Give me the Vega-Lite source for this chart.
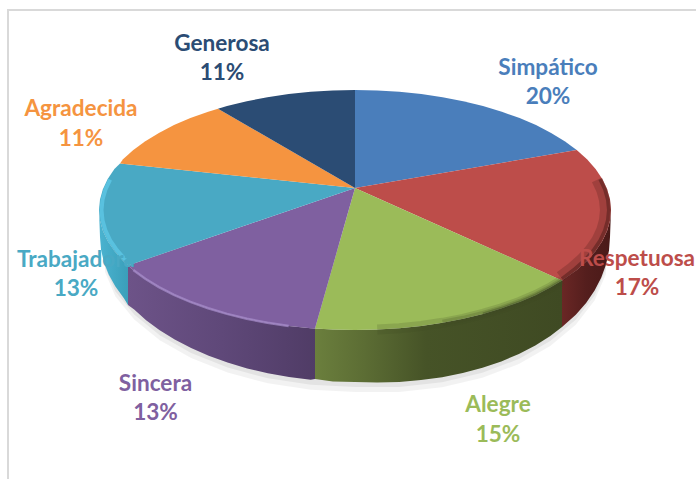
{
"$schema":"https://vega.github.io/schema/vega-lite/v6.json",
"width":696,"height":479,"padding":0,
"autosize":{"type":"fit","contains":"padding"},
"background":"white",
"config":{"view":{"stroke":null}},
"projection":{"type":"identity","reflectY":true,"scale":1,"translate":[355,188]},
"datasets":{
"labels":[
{"name":"Simpático","pct":0.20,"lon":193,"lat":107},
{"name":"Respetuosa","pct":0.17,"lon":282,"lat":-84},
{"name":"Alegre","pct":0.15,"lon":143,"lat":-230.5},
{"name":"Sincera","pct":0.13,"lon":-199.5,"lat":-209},
{"name":"Trabajadora","pct":0.13,"lon":-279,"lat":-85},
{"name":"Agradecida","pct":0.11,"lon":-274,"lat":65.5},
{"name":"Generosa","pct":0.11,"lon":-133,"lat":131}
],
"slices":[
{"name":"Simpático","geo":{"type":"Polygon","coordinates":[[[0,0],[0,98],[22.3,97.5],[44.4,96.2],[66.3,93.9],[87.6,90.8],[108.2,86.8],[128,81.9],[146.8,76.3],[164.6,69.9],[181,62.9],[196.1,55.1],[209.7,46.8],[221.7,38],[0,0]]]}},
{"name":"Respetuosa","geo":{"type":"Polygon","coordinates":[[[0,0],[221.7,38],[232,28.7],[240.6,19],[247.3,9.1],[252.1,-1.2],[255,-11.5],[256,-22],[255,-32.5],[252.1,-42.8],[247.3,-53.1],[240.6,-63],[232,-72.7],[221.7,-82],[207,-92.5],[0,0]]]}},
{"name":"Alegre","geo":{"type":"Polygon","coordinates":[[[0,0],[207,-92.5],[196.1,-99.1],[181,-106.9],[164.6,-113.9],[146.8,-120.3],[128,-125.9],[108.2,-130.8],[87.6,-134.8],[66.3,-137.9],[44.4,-140.2],[22.3,-141.5],[0,-142],[-22.3,-141.5],[-40,-140.5],[0,0]]]}},
{"name":"Sincera","geo":{"type":"Polygon","coordinates":[[[0,0],[-40,-140.5],[-44.4,-140.2],[-66.3,-137.9],[-87.6,-134.8],[-108.2,-130.8],[-128,-125.9],[-146.8,-120.3],[-164.6,-113.9],[-181,-106.9],[-196.1,-99.1],[-209.7,-90.8],[-221.7,-82],[-227,-77.5],[0,0]]]}},
{"name":"Trabajadora","geo":{"type":"Polygon","coordinates":[[[0,0],[-227,-77.5],[-232,-72.7],[-240.6,-63],[-247.3,-53.1],[-252.1,-42.8],[-255,-32.5],[-256,-22],[-255,-11.5],[-252.1,-1.2],[-247.3,9.1],[-240.6,19],[-235,24.5],[0,0]]]}},
{"name":"Agradecida","geo":{"type":"Polygon","coordinates":[[[0,0],[-235,24.5],[-232,28.7],[-221.7,38],[-209.7,46.8],[-196.1,55.1],[-181,62.9],[-164.6,69.9],[-146.8,76.3],[-137,79.3],[0,0]]]}},
{"name":"Generosa","geo":{"type":"Polygon","coordinates":[[[0,0],[-137,79.3],[-128,81.9],[-108.2,86.8],[-87.6,90.8],[-66.3,93.9],[-44.4,96.2],[-22.3,97.5],[0,98],[0,0]]]}}
]
},
"layer":[
{"data":{"values":[{"geo":{"type":"LineString","coordinates":[[341,178],[-347,178],[-347,-291]]}}]},
 "mark":{"type":"geoshape","filled":false,"stroke":"#d9d9d9","strokeWidth":2},
 "encoding":{"shape":{"field":"geo","type":"geojson"}}},
{"data":{"values":[{"geo":{"type":"Polygon","coordinates":[[[250,-60],[251,-86],[239.6,-112.5],[220.8,-136.7],[195.3,-158.1],[163.9,-176],[127.5,-189.8],[87.2,-199.2],[44.3,-203.9],[0,-204],[-44.3,-201.8],[-87.2,-195.3],[-127.5,-184.6],[-163.9,-170.1],[-195.3,-152.2],[-220.8,-131.5],[-239.6,-108.6],[-250,-84],[-250,-60],[250,-60]]]}}]},
 "mark":{"type":"geoshape","fill":"#000000","fillOpacity":0.05,"stroke":null},
 "encoding":{"shape":{"field":"geo","type":"geojson"}}},
{"data":{"values":[{"geo":{"type":"Polygon","coordinates":[[[250,-55],[251,-81],[239.6,-107.5],[220.8,-131.7],[195.3,-153.1],[163.9,-171],[127.5,-184.8],[87.2,-194.2],[44.3,-198.9],[0,-199],[-44.3,-196.8],[-87.2,-190.3],[-127.5,-179.6],[-163.9,-165.1],[-195.3,-147.2],[-220.8,-126.5],[-239.6,-103.6],[-250,-79],[-250,-55],[250,-55]]]}}]},
 "mark":{"type":"geoshape","fill":"#000000","fillOpacity":0.06,"stroke":null},
 "encoding":{"shape":{"field":"geo","type":"geojson"}}},
{"data":{"values":[{"name":"Respetuosa","geo":{"type":"Polygon","coordinates":[[[256,-22],[255,-32.5],[252.1,-42.8],[247.3,-53.1],[240.6,-63],[232,-72.7],[221.7,-82],[207,-92.5],[207,-139],[220.8,-126.7],[231.1,-114.9],[239.6,-102.5],[246.3,-89.5],[251.1,-76.2],[254,-62.6],[255,-49],[256,-22]]]}}]},
 "mark":{"type":"geoshape","stroke":null,"fill":{"gradient":"linear","x1":0,"y1":0,"x2":1,"y2":0,"stops":[{"offset":0,"color":"#6a2725"},{"offset":0.5,"color":"#541e1d"},{"offset":1,"color":"#4a1a18"}]}},
 "encoding":{"shape":{"field":"geo","type":"geojson"}}},
{"data":{"values":[{"name":"Alegre","geo":{"type":"Polygon","coordinates":[[[207,-92.5],[196.1,-99.1],[181,-106.9],[164.6,-113.9],[146.8,-120.3],[128,-125.9],[108.2,-130.8],[87.6,-134.8],[66.3,-137.9],[44.4,-140.2],[22.3,-141.5],[0,-142],[-22.3,-141.5],[-40,-140.5],[-40,-191],[-22.2,-193.4],[0,-194],[22.2,-194.4],[44.3,-193.9],[66,-192.1],[87.2,-189.2],[107.8,-185],[127.5,-179.8],[146.3,-173.4],[163.9,-166],[180.3,-157.5],[195.3,-148.1],[207,-139],[207,-92.5]]]}}]},
 "mark":{"type":"geoshape","stroke":null,"fill":{"gradient":"linear","x1":0,"y1":0,"x2":1,"y2":0,"stops":[{"offset":0,"color":"#6b7f3d"},{"offset":0.2,"color":"#5c6d34"},{"offset":0.45,"color":"#465327"},{"offset":1,"color":"#3f4a23"}]}},
 "encoding":{"shape":{"field":"geo","type":"geojson"}}},
{"data":{"values":[{"name":"Sincera","geo":{"type":"Polygon","coordinates":[[[-40,-140.5],[-44.4,-140.2],[-66.3,-137.9],[-87.6,-134.8],[-108.2,-130.8],[-128,-125.9],[-146.8,-120.3],[-164.6,-113.9],[-181,-106.9],[-196.1,-99.1],[-209.7,-90.8],[-221.7,-82],[-227,-77.5],[-227,-117],[-220.8,-121.5],[-208.9,-132.2],[-195.3,-142.2],[-180.3,-151.5],[-163.9,-160.1],[-146.3,-167.8],[-127.5,-174.6],[-107.8,-180.4],[-87.2,-185.3],[-66,-189.1],[-44.3,-191.8],[-40,-191],[-40,-140.5]]]}}]},
 "mark":{"type":"geoshape","stroke":null,"fill":{"gradient":"linear","x1":0,"y1":0,"x2":1,"y2":0,"stops":[{"offset":0,"color":"#6d5388"},{"offset":0.5,"color":"#5f4879"},{"offset":1,"color":"#503c66"}]}},
 "encoding":{"shape":{"field":"geo","type":"geojson"}}},
{"data":{"values":[{"name":"Trabajadora","geo":{"type":"Polygon","coordinates":[[[-227,-77.5],[-232,-72.7],[-240.6,-63],[-247.3,-53.1],[-252.1,-42.8],[-255,-32.5],[-256,-22],[-255,-49],[-254,-61.6],[-251.1,-74.2],[-246.3,-86.5],[-239.6,-98.6],[-231.1,-110.3],[-227,-117],[-227,-77.5]]]}}]},
 "mark":{"type":"geoshape","stroke":null,"fill":{"gradient":"linear","x1":0,"y1":0,"x2":1,"y2":0,"stops":[{"offset":0,"color":"#4bb3d0"},{"offset":1,"color":"#3a9fba"}]}},
 "encoding":{"shape":{"field":"geo","type":"geojson"}}},
{"data":{"name":"slices"},
 "mark":{"type":"geoshape","stroke":null},
 "encoding":{"shape":{"field":"geo","type":"geojson"},
  "color":{"field":"name","type":"nominal","legend":null,"scale":{"domain":["Simpático","Respetuosa","Alegre","Sincera","Trabajadora","Agradecida","Generosa"],"range":["#4a7ebb","#bd4d4a","#9bbb59","#7f60a0","#49a9c4","#f59440","#2b4c74"]}}}},
{"data":{"values":[{"geo":{"type":"LineString","coordinates":[[-66.3,-137.9],[-87.6,-134.8],[-108.2,-130.8],[-128,-125.9],[-146.8,-120.3],[-164.6,-113.9],[-181,-106.9],[-196.1,-99.1],[-209.7,-90.8],[-221.7,-82]]}}]},
 "mark":{"type":"geoshape","filled":false,"stroke":"#a68bca","strokeWidth":2.5,"strokeOpacity":0.75},
 "encoding":{"shape":{"field":"geo","type":"geojson"}}},
{"data":{"values":[{"geo":{"type":"LineString","coordinates":[[22.3,-141.5],[44.4,-140.2],[66.3,-137.9],[87.6,-134.8],[108.2,-130.8],[128,-125.9],[146.8,-120.3],[164.6,-113.9],[181,-106.9],[196.1,-99.1],[207,-92.5]]}}]},
 "mark":{"type":"geoshape","filled":false,"stroke":"#3f4a23","strokeWidth":10,"strokeOpacity":0.18},
 "encoding":{"shape":{"field":"geo","type":"geojson"}}},
{"data":{"values":[{"geo":{"type":"LineString","coordinates":[[87.6,-134.8],[108.2,-130.8],[128,-125.9],[146.8,-120.3],[164.6,-113.9],[181,-106.9],[196.1,-99.1],[207,-92.5]]}}]},
 "mark":{"type":"geoshape","filled":false,"stroke":"#3f4a23","strokeWidth":6,"strokeOpacity":0.22},
 "encoding":{"shape":{"field":"geo","type":"geojson"}}},
{"data":{"values":[{"geo":{"type":"LineString","coordinates":[[128,-125.9],[146.8,-120.3],[164.6,-113.9],[181,-106.9],[196.1,-99.1],[207,-92.5]]}}]},
 "mark":{"type":"geoshape","filled":false,"stroke":"#3f4a23","strokeWidth":3,"strokeOpacity":0.4},
 "encoding":{"shape":{"field":"geo","type":"geojson"}}},
{"data":{"values":[{"geo":{"type":"LineString","coordinates":[[241.5,7.8],[246.2,-2],[249,-12],[250,-22],[249,-32],[246.2,-42],[241.5,-51.8],[234.9,-61.3],[226.6,-70.6],[216.5,-79.5],[204.8,-88.2]]}}]},
 "mark":{"type":"geoshape","filled":false,"stroke":"#4a1a18","strokeWidth":10,"strokeOpacity":0.25},
 "encoding":{"shape":{"field":"geo","type":"geojson"}}},
{"data":{"values":[{"geo":{"type":"LineString","coordinates":[[245.3,8.8],[250.1,-1.4],[253,-11.7],[254,-22],[253,-32],[250,-42.5],[245.3,-52.6],[238.7,-62.4],[230.2,-72],[220,-81],[207,-91]]}}]},
 "mark":{"type":"geoshape","filled":false,"stroke":"#4a1a18","strokeWidth":4,"strokeOpacity":0.5},
 "encoding":{"shape":{"field":"geo","type":"geojson"}}},
{"data":{"values":[{"geo":{"type":"LineString","coordinates":[[-229.7,-71.7],[-238.2,-62.2],[-244.9,-52.4],[-249.6,-42.4],[-252.5,-32.2],[-253.5,-22],[-252.5,-11.8],[-249.6,-1.6],[-244.9,8.4]]}}]},
 "mark":{"type":"geoshape","filled":false,"stroke":"#5cc6e4","strokeWidth":4,"strokeOpacity":0.85},
 "encoding":{"shape":{"field":"geo","type":"geojson"}}},
{"data":{"name":"labels"},
 "mark":{"type":"text","font":"Lato","fontWeight":"bold","fontSize":22.6,"dy":-13.5},
 "encoding":{"longitude":{"field":"lon","type":"quantitative"},"latitude":{"field":"lat","type":"quantitative"},"text":{"field":"name"},
  "color":{"field":"name","type":"nominal","legend":null,"scale":{"domain":["Simpático","Respetuosa","Alegre","Sincera","Trabajadora","Agradecida","Generosa"],"range":["#4f81bd","#c0504d","#9bbb59","#8064a2","#4bacc6","#f79646","#2c4d75"]}}}},
{"data":{"name":"labels"},
 "mark":{"type":"text","font":"Lato","fontWeight":"bold","fontSize":22.6,"dy":16},
 "encoding":{"longitude":{"field":"lon","type":"quantitative"},"latitude":{"field":"lat","type":"quantitative"},"text":{"field":"pct","type":"quantitative","format":".0%"},
  "color":{"field":"name","type":"nominal","legend":null,"scale":{"domain":["Simpático","Respetuosa","Alegre","Sincera","Trabajadora","Agradecida","Generosa"],"range":["#4f81bd","#c0504d","#9bbb59","#8064a2","#4bacc6","#f79646","#2c4d75"]}}}}
]
}
